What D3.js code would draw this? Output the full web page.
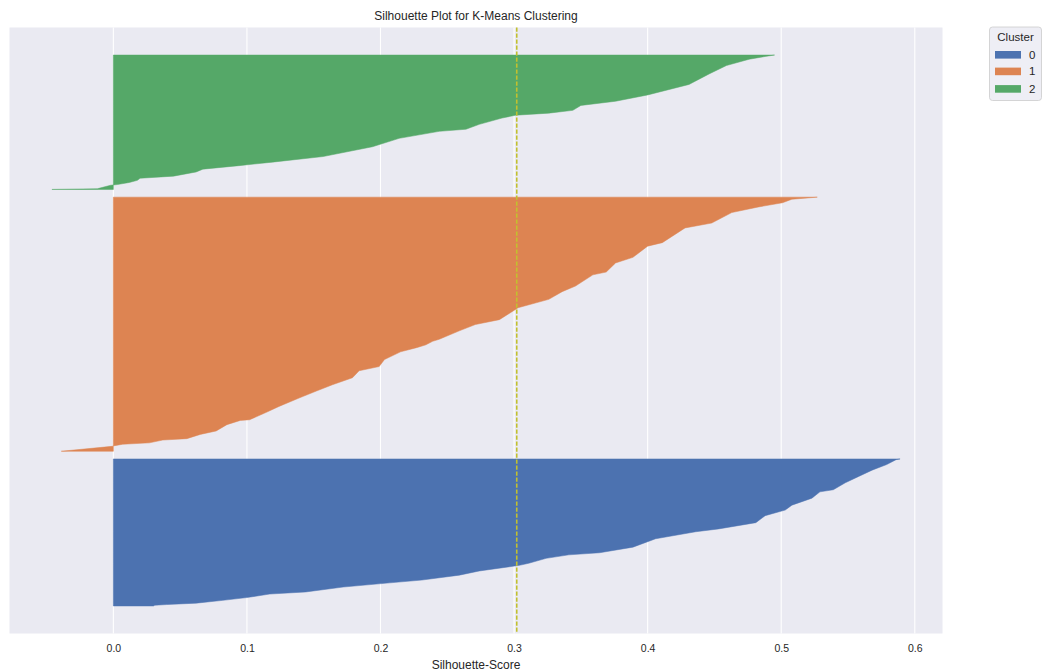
<!DOCTYPE html>
<html>
<head>
<meta charset="utf-8">
<script src="https://cdn.jsdelivr.net/npm/d3@7"></script>
<style>
  html, body { margin: 0; padding: 0; background: #ffffff; }
  svg text { font-family: "Liberation Sans", Arial, sans-serif; fill: #262626; }
</style>
</head>
<body>
<svg id="chart" width="1048" height="671"></svg>
<script>
// Cluster labels and sample counts per cluster
const clusterIds = ["0", "1", "2"];
const clusterSizes = [211, 364, 193];

// Sorted silhouette scores per cluster: sample rank within the cluster -> score
const rank0 = [0, 1, 2, 4, 8, 12, 17, 20, 27, 33, 37, 44, 50, 58, 61, 68, 73, 76, 84, 96, 106, 110, 119, 129, 137, 144, 154, 163, 166, 176, 185, 194, 202, 209, 210];
const score0 = [0.030, 0.031, 0.040, 0.062, 0.082, 0.100, 0.117, 0.144, 0.172, 0.207, 0.231, 0.259, 0.274, 0.304, 0.311, 0.324, 0.341, 0.364, 0.389, 0.406, 0.436, 0.453, 0.481, 0.488, 0.503, 0.508, 0.523, 0.529, 0.539, 0.548, 0.558, 0.568, 0.579, 0.586, 0.589];

const rank1 = [0, 7, 8, 10, 12, 16, 18, 24, 29, 38, 44, 45, 56, 64, 76, 86, 95, 105, 115, 121, 131, 142, 148, 152, 157, 160, 172, 181, 188, 200, 205, 217, 228, 236, 252, 256, 269, 277, 293, 298, 319, 326, 341, 349, 355, 360, 363];
const score1 = [-0.039, -0.001, 0.001, 0.007, 0.027, 0.037, 0.055, 0.065, 0.077, 0.085, 0.095, 0.102, 0.115, 0.124, 0.139, 0.152, 0.164, 0.179, 0.184, 0.199, 0.203, 0.215, 0.227, 0.234, 0.239, 0.244, 0.259, 0.271, 0.289, 0.299, 0.303, 0.326, 0.336, 0.346, 0.359, 0.369, 0.376, 0.389, 0.400, 0.411, 0.428, 0.448, 0.463, 0.483, 0.501, 0.508, 0.527];

const rank2 = [0, 1, 2, 6, 7, 10, 13, 16, 19, 25, 29, 34, 39, 47, 61, 73, 83, 86, 93, 102, 106, 109, 113, 120, 126, 135, 150, 165, 177, 186, 190, 192];
const score2 = [-0.046, -0.012, -0.010, -0.002, 0.003, 0.012, 0.018, 0.020, 0.045, 0.062, 0.067, 0.094, 0.119, 0.157, 0.194, 0.214, 0.244, 0.264, 0.274, 0.291, 0.301, 0.326, 0.344, 0.350, 0.376, 0.400, 0.431, 0.446, 0.459, 0.476, 0.488, 0.495];

// Average silhouette score over all samples
const meanScore = 0.302;

// X tick values and their labels
const xTicks = [0.0, 0.1, 0.2, 0.3, 0.4, 0.5, 0.6];
const xTickLabels = ["0.0", "0.1", "0.2", "0.3", "0.4", "0.5", "0.6"];

const titleText = "Silhouette Plot for K-Means Clustering";
const xLabelText = "Silhouette-Score";
const legendTitle = "Cluster";

const ranks = [rank0, rank1, rank2];
const scores = [score0, score1, score2];
const palette = ["#4c72b0", "#dd8452", "#55a868"];

// ---- layout ----
const svg = d3.select("#chart");
const plot = { left: 9.5, right: 942.5, top: 27.5, bottom: 633.5 };

// Stack the clusters bottom-up with a gap of 10 samples between them
const gap = 10;
let yLower = 10;
const blocks = clusterIds.map((id, i) => {
  const b = {
    id, lower: yLower, color: palette[i],
    pts: ranks[i].map((r, j) => ({ y: yLower + r, v: scores[i][j] }))
  };
  yLower += clusterSizes[i] + gap;
  return b;
});

// Autoscale with 5% margins, as the plotting library would
const yMin = blocks[0].lower;
const yMax = d3.max(blocks, b => d3.max(b.pts, p => p.y));
const yPad = (yMax - yMin) * 0.05;
const allScores = scores.flat();
const xMinV = Math.min(0, d3.min(allScores));
const xMaxV = d3.max(allScores);
const xPad = (xMaxV - xMinV) * 0.05;

const x = d3.scaleLinear().domain([xMinV - xPad, xMaxV + xPad]).range([plot.left, plot.right]);
const y = d3.scaleLinear().domain([yMin - yPad, yMax + yPad]).range([plot.bottom, plot.top]);

// Background panel
svg.append("rect")
  .attr("x", plot.left).attr("y", plot.top)
  .attr("width", plot.right - plot.left).attr("height", plot.bottom - plot.top)
  .attr("fill", "#eaeaf2");

// Vertical grid lines
svg.append("g").selectAll("line").data(xTicks).join("line")
  .attr("x1", d => x(d)).attr("x2", d => x(d))
  .attr("y1", plot.top).attr("y2", plot.bottom)
  .attr("stroke", "#ffffff").attr("stroke-width", 1.1);

// Silhouette areas
const area = d3.area()
  .y(d => y(d.y))
  .x0(() => x(0))
  .x1(d => x(d.v))
  .curve(d3.curveLinear);

svg.append("g").selectAll("path").data(blocks).join("path")
  .attr("d", b => area(b.pts))
  .attr("fill", b => b.color)
  .attr("stroke", b => b.color)
  .attr("stroke-width", 0.5);

// Mean silhouette score
svg.append("line")
  .attr("x1", x(meanScore)).attr("x2", x(meanScore))
  .attr("y1", plot.top).attr("y2", plot.bottom)
  .attr("stroke", "#c2c02e").attr("stroke-width", 1.6)
  .attr("stroke-dasharray", "4.2,1.8");

// X axis tick labels
const xAxis = d3.axisBottom(x)
  .tickValues(xTicks)
  .tickFormat((d, i) => xTickLabels[i])
  .tickSize(0).tickPadding(0);
const gx = svg.append("g").attr("transform", `translate(0,${plot.bottom + 11})`).call(xAxis);
gx.select(".domain").remove();
gx.selectAll("text")
  .attr("font-size", 10.5)
  .attr("font-family", "'Liberation Sans', Arial, sans-serif")
  .attr("fill", "#262626");

// Axis label and title
svg.append("text")
  .attr("x", (plot.left + plot.right) / 2).attr("y", 669)
  .attr("text-anchor", "middle").attr("font-size", 12)
  .text(xLabelText);

svg.append("text")
  .attr("x", (plot.left + plot.right) / 2).attr("y", 20)
  .attr("text-anchor", "middle").attr("font-size", 12)
  .text(titleText);

// Legend
const lg = svg.append("g");
lg.append("rect")
  .attr("x", 989.5).attr("y", 27).attr("width", 52).attr("height", 73.5)
  .attr("rx", 3).attr("fill", "#eeeef5").attr("stroke", "#cccccc").attr("stroke-width", 0.8);
lg.append("text")
  .attr("x", 1015.5).attr("y", 41)
  .attr("text-anchor", "middle").attr("font-size", 11.5)
  .text(legendTitle);
const rowY = [54.8, 71.4, 88.9];
clusterIds.forEach((id, i) => {
  lg.append("rect")
    .attr("x", 995).attr("y", rowY[i] - 3.8).attr("width", 26).attr("height", 7.6)
    .attr("fill", palette[i]);
  lg.append("text")
    .attr("x", 1029).attr("y", rowY[i] + 4)
    .attr("font-size", 11.5)
    .text(id);
});
</script>
</body>
</html>
